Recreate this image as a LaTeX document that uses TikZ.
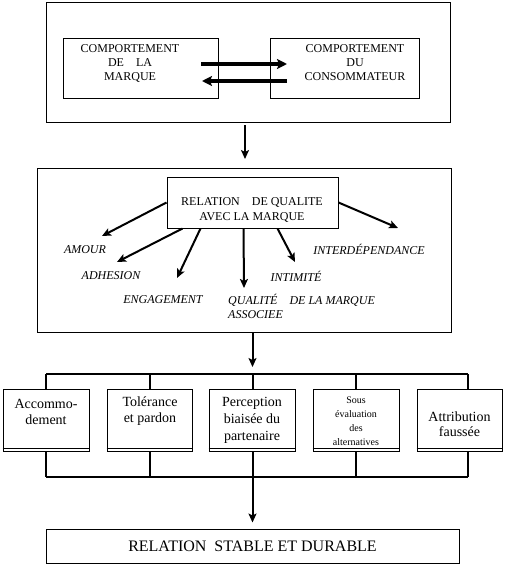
\documentclass[tikz,border=0pt]{standalone}
\usepackage{fontspec}
\setmainfont{Liberation Serif}
\usepackage{tikz}
\usetikzlibrary{%
  positioning,%
  calc,%
  arrows.meta%
}

\begin{document}
\begin{tikzpicture}[x=1pt, y=-1pt,
  >={Stealth[length=9pt,width=8pt,inset=2pt]},
  boite/.style={draw, line width=1pt, inner sep=0pt},
  texte/.style={align=center, inner sep=0pt, font=\fontsize{12}{14}\selectfont},
  dim/.style={inner sep=0pt, font=\fontsize{12}{14}\selectfont\itshape},
  petit/.style={align=center, inner sep=0pt, font=\fontsize{14}{16}\selectfont},
  fil/.style={line width=2pt},
  fleche/.style={->, line width=2pt},
  grosse/.style={->, line width=3.4pt, >={Stealth[length=10pt,width=10pt,inset=2pt]}}]
\useasboundingbox (0,0) rectangle (504,565);

% comportements
\node[boite, minimum width=404, minimum height=120] (cadre1) at (248,62) {};
\node[boite, minimum width=155, minimum height=60] (cmarque) at (140.5,68) {};
\node[texte] (tmarque) at (130,63) {COMPORTEMENT\\DE\quad LA\\MARQUE};
\node[boite, minimum width=149, minimum height=60] (cconso) at (344.5,68) {};
\node[texte] (tconso) at (355,63) {COMPORTEMENT\\DU\\CONSOMMATEUR};
\coordinate (m1) at (201,64);
\coordinate (c1) at (287,64);
\coordinate (c2) at (287,81);
\coordinate (m2) at (202,81);
\draw
	(m1) edge[grosse] (c1)
	(c2) edge[grosse] (m2)
;

\coordinate (f1) at (245,125);
\coordinate (f2) at (245,159);
\draw (f1) edge[fleche] (f2);

% relation de qualite
\node[boite, minimum width=414, minimum height=164] (cadre2) at (244,250) {};
\node[boite, minimum width=171, minimum height=51] (rel) at (252.5,202.5) {};
\node[texte, font=\fontsize{12}{15}\selectfont] (trel) at (252,209.5) {RELATION\quad DE QUALITE\\AVEC LA MARQUE};

\node[dim] (amour) at (85,250) {AMOUR};
\node[dim] (adhesion) at (111,276) {ADHESION};
\node[dim] (engagement) at (163,300) {ENGAGEMENT};
\node[dim, align=left, anchor=west] (qualite) at (228,306.5) {QUALITÉ\quad DE LA MARQUE\\ASSOCIEE};
\node[dim] (intimite) at (296,276) {INTIMITÉ};
\node[dim] (interdep) at (369,249) {INTERDÉPENDANCE};

\coordinate (a1) at (102,236);
\coordinate (a2) at (117,262);
\coordinate (a3) at (177,278);
\coordinate (a4) at (244,288);
\coordinate (a5) at (295,262);
\coordinate (a6) at (398,228);
\draw
	(rel.west) edge[fleche] (a1)
	([xshift=16pt]rel.south west) edge[fleche] (a2)
	([xshift=34pt]rel.south west) edge[fleche] (a3)
	([xshift=77pt]rel.south west) edge[fleche] (a4)
	([xshift=111pt]rel.south west) edge[fleche] (a5)
	(rel.east) edge[fleche] (a6)
;

% mecanismes
\coordinate (t1) at (46,374);
\coordinate (t2) at (150,374);
\coordinate (t3) at (252.5,374);
\coordinate (t4) at (356,374);
\coordinate (t5) at (468,374);
\coordinate (u1) at (46,477);
\coordinate (u2) at (150,477);
\coordinate (u3) at (252.5,477);
\coordinate (u4) at (356,477);
\coordinate (u5) at (468,477);

\node[boite, minimum width=86, minimum height=62] (b1) at (46,420) {};
\node[boite, minimum width=85, minimum height=62] (b2) at (149.5,420) {};
\node[boite, minimum width=86, minimum height=62] (b3) at (252,420) {};
\node[boite, minimum width=86, minimum height=62] (b4) at (356,420) {};
\node[boite, minimum width=85, minimum height=62] (b5) at (459.5,420) {};
\foreach \b in {b1,b2,b3,b4,b5}
	\draw[line width=1pt] ([yshift=3pt]\b.south west) -- ([yshift=3pt]\b.south east);

\node[petit] (tb1) at (46,411.5) {Accommo-\\dement};
\node[petit] (tb2) at (150,411.5) {Tolérance\\et pardon};
\node[petit, font=\fontsize{14}{17}\selectfont] (tb3) at (252,420) {Perception\\biaisée du\\partenaire};
\node[petit, font=\fontsize{10}{14}\selectfont] (tb4) at (356,421) {Sous\\évaluation\\des\\alternatives};
\node[petit, font=\fontsize{14}{15}\selectfont] (tb5) at (459.5,424.5) {Attribution\\faussée};

\draw[fleche, shorten >=7pt] (cadre2.south -| rel.south) -- (t3);
\draw[fil] (t1) -- (t5);
\draw[fil]
	(t1) -- (b1.north)
	(t2) -- (t2 |- b2.north)
	(t3) -- (t3 |- b3.north)
	(t4) -- (b4.north)
	(t5) -- (t5 |- b5.north)
	(b1.south) -- (u1)
	(b2.south -| u2) -- (u2)
	(b3.south -| u3) -- (u3)
	(b4.south) -- (u4)
	(b5.south -| u5) -- (u5)
	(u1) -- (u5)
;

% resultat
\node[boite, minimum width=413, minimum height=34, font=\fontsize{16}{18}\selectfont] (final) at (252.5,546) {RELATION\ \ STABLE ET DURABLE};
\draw[fleche, shorten >=6pt] (u3) -- (final.north);
\end{tikzpicture}
\end{document}
